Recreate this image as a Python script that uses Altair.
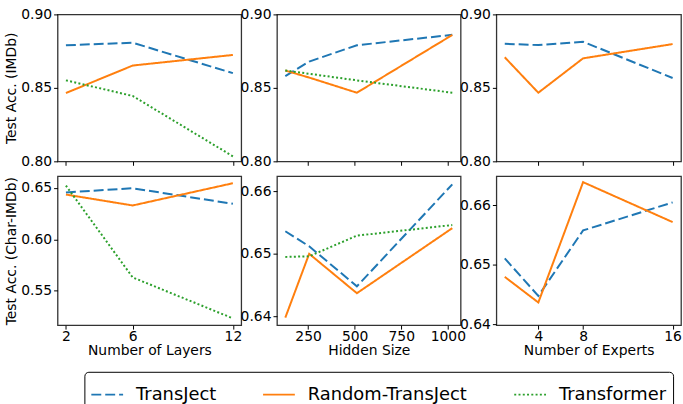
import altair as alt
import pandas as pd

series = ["TransJect", "Random-TransJect", "Transformer"]
colors = ["#1f77b4", "#ff7f0e", "#2ca02c"]
dashes = [[10, 4], [1, 0], [2, 2.3]]

layers = [2, 6, 12]
hidden = [128, 256, 512, 1024]
experts = [1, 4, 8, 16]

# IMDb
imdb_layers_transject = [0.879, 0.8807, 0.860]
imdb_layers_random = [0.8465, 0.8652, 0.8724]
imdb_layers_transformer = [0.8551, 0.8445, 0.8034]

imdb_hidden_transject = [0.858, 0.8679, 0.879, 0.8861]
imdb_hidden_random = [0.8618, 0.857, 0.8467, 0.886]
imdb_hidden_transformer = [0.8618, 0.8596, 0.8551, 0.8467]

imdb_experts_transject = [0.880, 0.8791, 0.8814, 0.8567]
imdb_experts_random = [0.8708, 0.8467, 0.8701, 0.8798]

# Char-IMDb
char_layers_transject = [0.6455, 0.6496, 0.6345]
char_layers_random = [0.6435, 0.6329, 0.6545]
char_layers_transformer = [0.6522, 0.563, 0.5233]

char_hidden_transject = [0.6536, 0.6512, 0.6448, 0.6611]
char_hidden_random = [0.6398, 0.650, 0.6437, 0.6541]
char_hidden_transformer = [0.6495, 0.6496, 0.6529, 0.6546]

char_experts_transject = [0.6511, 0.6448, 0.6558, 0.6605]
char_experts_random = [0.6480, 0.6437, 0.6639, 0.6572]

FONT = "DejaVu Sans"


def frame(xs, data):
    rows = []
    for name, vals in data:
        for x, v in zip(xs, vals):
            rows.append({"x": x, "acc": v, "model": name})
    return pd.DataFrame(rows)


legend = alt.Legend(
    title=None,
    orient="none",
    legendX=27,
    legendY=360,
    direction="horizontal",
    columns=3,
    columnPadding=43,
    labelFontSize=18,
    labelFont=FONT,
    labelColor="black",
    labelLimit=400,
    labelOffset=12,
    symbolType="stroke",
    symbolSize=1024,
    symbolStrokeWidth=2,
    strokeColor="black",
    fillColor="white",
    cornerRadius=4,
    padding=6,
)

color_scale = alt.Scale(domain=series, range=colors)
dash_scale = alt.Scale(domain=series, range=dashes)


def panel(df, xdom, xticks, ydom, yticks, xtitle, ytitle, width, height, show_x):
    xaxis_kw = dict(values=xticks, format="d", labels=show_x, tickSize=4,
                    labelPadding=0, titlePadding=1)
    yaxis_kw = dict(values=yticks, format=".2f", tickSize=4, labelPadding=2, titlePadding=2)
    return (
        alt.Chart(df)
        .mark_line(strokeWidth=2)
        .encode(
            x=alt.X("x:Q", scale=alt.Scale(domain=xdom, nice=False, zero=False),
                    axis=alt.Axis(**xaxis_kw), title=xtitle if xtitle else None),
            y=alt.Y("acc:Q", scale=alt.Scale(domain=ydom, nice=False, zero=False),
                    axis=alt.Axis(**yaxis_kw), title=ytitle if ytitle else None),
            color=alt.Color("model:N", scale=color_scale, legend=legend),
            strokeDash=alt.StrokeDash("model:N", scale=dash_scale, legend=legend),
        )
        .properties(width=width, height=height)
    )


top_h = 148
bot_h = 150

p1 = panel(frame(layers, [("TransJect", imdb_layers_transject),
                          ("Random-TransJect", imdb_layers_random),
                          ("Transformer", imdb_layers_transformer)]),
           [1.5, 12.5], layers, [0.80, 0.90], [0.80, 0.85, 0.90],
           None, "Test Acc. (IMDb)", 185, top_h, False)
p2 = panel(frame(hidden, [("TransJect", imdb_hidden_transject),
                          ("Random-TransJect", imdb_hidden_random),
                          ("Transformer", imdb_hidden_transformer)]),
           [83.2, 1068.8], [250, 500, 750, 1000], [0.80, 0.90], [0.80, 0.85, 0.90],
           None, None, 185, top_h, False)
p3 = panel(frame(experts, [("TransJect", imdb_experts_transject),
                           ("Random-TransJect", imdb_experts_random)]),
           [0.25, 16.75], [4, 8, 16], [0.80, 0.90], [0.80, 0.85, 0.90],
           None, None, 186, top_h, False)

q1 = panel(frame(layers, [("TransJect", char_layers_transject),
                          ("Random-TransJect", char_layers_random),
                          ("Transformer", char_layers_transformer)]),
           [1.5, 12.5], layers, [0.5167, 0.6613], [0.55, 0.60, 0.65],
           "Number of Layers", "Test Acc. (Char-IMDb)", 185, bot_h, True)
q2 = panel(frame(hidden, [("TransJect", char_hidden_transject),
                          ("Random-TransJect", char_hidden_random),
                          ("Transformer", char_hidden_transformer)]),
           [83.2, 1068.8], [250, 500, 750, 1000], [0.6386, 0.6624], [0.64, 0.65, 0.66],
           "Hidden Size", None, 185, bot_h, True)
q3 = panel(frame(experts, [("TransJect", char_experts_transject),
                           ("Random-TransJect", char_experts_random)]),
           [0.25, 16.75], [4, 8, 16], [0.6399, 0.6649], [0.64, 0.65, 0.66],
           "Number of Experts", None, 186, bot_h, True)

chart = (
    alt.concat(p1, p2, p3, q1, q2, q3, columns=3,
               spacing={"row": 15, "column": 36}, bounds="flush")
    .properties(padding={"left": 4, "top": 5, "right": 0, "bottom": 0}, background="white")
    .configure_view(stroke="#333333", strokeWidth=1.3)
    .configure_axis(
        grid=False,
        domain=False,
        labelFont=FONT,
        titleFont=FONT,
        labelFontSize=14,
        titleFontSize=14,
        labelColor="black",
        titleColor="black",
        titleFontWeight="normal",
        tickColor="black",
        tickWidth=1,
    )
)

chart.save("out.html", embed_options={"renderer": "svg", "actions": False})
